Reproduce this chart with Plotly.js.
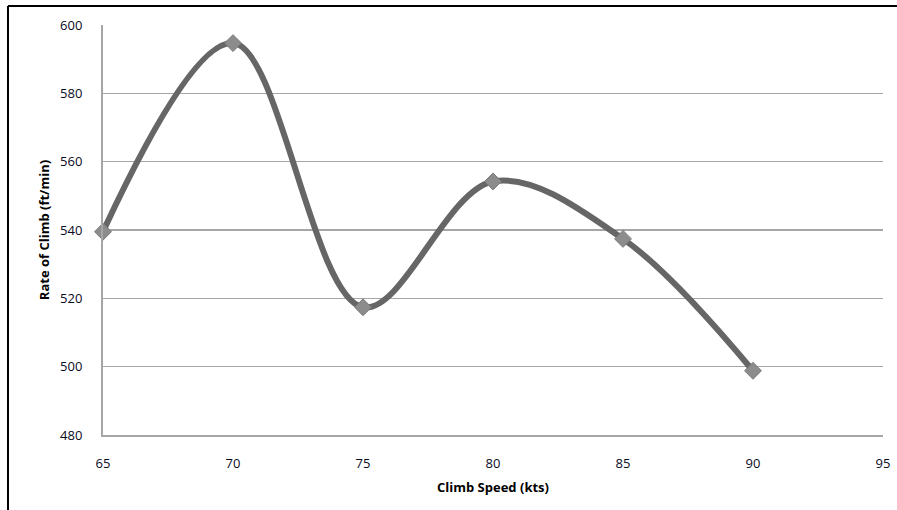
<!DOCTYPE html>
<html>
<head>
<meta charset="utf-8">
<script src="https://cdn.plot.ly/plotly-3.0.1.min.js"></script>
<style>html,body{margin:0;padding:0;background:#fff;}#chart{width:897px;height:510px;}</style>
</head>
<body>
<div id="chart"></div>
<script>
var climbSpeed = [65, 70, 75, 80, 85, 90];
var rateOfClimb = [539.5, 594.7, 517.4, 554.2, 537.4, 498.8];
var xTicks = [65, 70, 75, 80, 85, 90, 95];
var yTicks = [480, 500, 520, 540, 560, 580, 600];

var trace = {
  x: climbSpeed,
  y: rateOfClimb,
  type: 'scatter',
  mode: 'lines+markers',
  line: {shape: 'spline', smoothing: 1, color: '#666666', width: 6},
  marker: {symbol: 'diamond', size: 13, color: '#8c8c8c', line: {color: '#7a7a7a', width: 1}},
  cliponaxis: false,
  hoverinfo: 'x+y'
};

var fontFam = 'Open Sans, Liberation Sans, sans-serif';

var layout = {
  width: 897, height: 510,
  margin: {l: 103, r: 14, t: 25, b: 75},
  paper_bgcolor: '#ffffff', plot_bgcolor: '#ffffff',
  showlegend: false,
  font: {family: fontFam, size: 13, color: '#000'},
  xaxis: {
    range: [65, 95], tickvals: xTicks, ticktext: xTicks.map(String),
    showgrid: false, zeroline: false,
    showline: true, linecolor: '#a6a6a6', linewidth: 2,
    ticks: '', ticklabelstandoff: 15,
    tickfont: {family: fontFam, size: 13, color: '#0a0a1e'},
    title: {text: '<b>Climb Speed (kts)</b>', font: {family: fontFam, size: 13, color: '#000'}, standoff: 12}
  },
  yaxis: {
    range: [480, 600], tickvals: yTicks, ticktext: yTicks.map(String),
    showgrid: true, gridcolor: '#a6a6a6', gridwidth: 1.5,
    zeroline: false,
    showline: true, linecolor: '#a6a6a6', linewidth: 2,
    ticks: '', ticklabelstandoff: 16,
    tickfont: {family: fontFam, size: 13, color: '#0a0a1e'},
    title: {text: '<b>Rate of Climb (ft/min)</b>', font: {family: fontFam, size: 13, color: '#000'}, standoff: 8}
  },
  shapes: [
    {type: 'line', xref: 'paper', yref: 'paper', x0: -0.1218, x1: 1.02, y0: 1.0463, y1: 1.0463, line: {color: '#000', width: 2}},
    {type: 'line', xref: 'paper', yref: 'paper', x0: -0.1218, x1: -0.1218, y0: 1.0463, y1: -0.2, line: {color: '#000', width: 2}}
  ]
};

Plotly.newPlot('chart', [trace], layout, {displayModeBar: false, staticPlot: true});
</script>
</body>
</html>
